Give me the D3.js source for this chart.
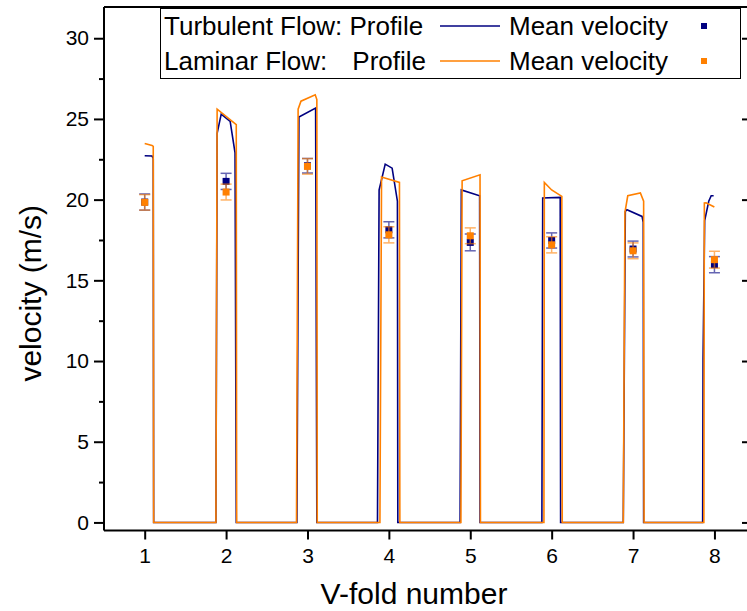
<html>
  <head>
    <title>V-fold velocity</title>
    <style>
      body { margin: 0; background: #fff; }
      text { font-family: Arial, 'Liberation Sans', sans-serif; fill: #000; }
    </style>
  </head>
  <body>
    <script src="https://d3js.org/d3.v7.min.js"></script>
    <script>
      // V-fold positions and tick values
      var folds = [1, 2, 3, 4, 5, 6, 7, 8];
      var yTicks = [0, 5, 10, 15, 20, 25, 30];
      var yMinorTicks = [2.5, 7.5, 12.5, 17.5, 22.5, 27.5];

      // Mean velocity (m/s) and error per fold
      var turbMean = [19.85, 21.13, 22.1, 18.13, 17.35, 17.47, 16.94, 15.97];
      var turbErr = [0.5, 0.5, 0.45, 0.5, 0.52, 0.47, 0.49, 0.5];
      var lamMean = [19.83, 20.47, 22.06, 17.82, 17.76, 17.2, 16.83, 16.28];
      var lamErr = [0.48, 0.49, 0.48, 0.5, 0.49, 0.5, 0.49, 0.52];

      // Velocity profiles (position along the channel, velocity)
      var turbX = [1.00, 1.09, 1.105, 1.11, 1.875, 1.89, 1.94, 2.05, 2.11, 2.125,
                   2.87, 2.895, 3.10, 3.115, 3.86, 3.88, 3.955, 4.04, 4.105, 4.11,
                   4.875, 4.89, 5.115, 5.12, 5.88, 5.89, 6.105, 6.11,
                   6.88, 6.905, 6.925, 7.11, 7.125, 7.13,
                   7.855, 7.86, 7.88, 7.93, 7.96, 7.99];
      var turbV = [22.72, 22.70, 22.55, 0, 0, 24.1, 25.3, 24.85, 22.9, 0,
                   0, 25.12, 25.67, 0, 0, 20.6, 22.2, 21.95, 19.9, 0,
                   0, 20.6, 20.24, 0, 0, 20.1, 20.14, 0,
                   0, 19.27, 19.37, 18.96, 18.6, 0,
                   0, 10.1, 18.7, 19.9, 20.24, 20.24];
      var lamX = [1.00, 1.09, 1.105, 1.11, 1.875, 1.89, 2.125, 2.13,
                  2.865, 2.885, 2.92, 3.095, 3.115, 3.12, 3.89, 3.91, 4.13, 4.135,
                  4.885, 4.9, 5.12, 5.125, 5.905, 5.91, 6.0, 6.125, 6.13,
                  6.88, 6.9, 6.935, 7.09, 7.13, 7.135,
                  7.87, 7.876, 7.897, 7.999];
      var lamV = [23.48, 23.36, 23.3, 0, 0, 25.6, 24.65, 0,
                  0, 25.6, 26.1, 26.5, 26.2, 0, 0, 21.4, 21.07, 0,
                  0, 21.17, 21.54, 0, 0, 21.07, 20.6, 20.2, 0,
                  0, 19.2, 20.24, 20.41, 19.9, 0,
                  0, 19.79, 19.8, 19.54];

      var colors = {
        NAVY: '#000080',
        ORANGE: '#ff8000'
      };

      var W = 747, H = 611;
      var LEFT = 104, RIGHT = 747, TOP = 7, BOTTOM = 530.5;

      var svg = d3.select('body').append('svg')
        .attr('width', W)
        .attr('height', H);

      var x = d3.scaleLinear().domain([0.5, 8.4]).range([LEFT, RIGHT]);
      var y = d3.scaleLinear().domain([-0.5, 32]).range([BOTTOM, 530.5 - 32.5 * 16.14]);

      // Profile lines
      var line = d3.line()
        .x(function(d) { return x(d[0]); })
        .y(function(d) { return y(d[1]); });

      svg.append('path')
        .datum(d3.zip(turbX, turbV))
        .attr('d', line)
        .attr('fill', 'none')
        .attr('stroke', colors.NAVY)
        .attr('stroke-width', 1.6);

      svg.append('path')
        .datum(d3.zip(lamX, lamV))
        .attr('d', line)
        .attr('fill', 'none')
        .attr('stroke', colors.ORANGE)
        .attr('stroke-width', 1.6);

      // Mean velocity points with error bars
      function drawPoints(means, errs, color) {
        var g = svg.append('g');
        var data = d3.zip(folds, means, errs);
        var eb = g.selectAll('.eb').data(data).enter().append('g')
          .attr('stroke', color)
          .attr('stroke-width', 1.5)
          .attr('opacity', 0.6);
        eb.append('line')
          .attr('x1', function(d) { return x(d[0]); })
          .attr('x2', function(d) { return x(d[0]); })
          .attr('y1', function(d) { return y(d[1] - d[2]); })
          .attr('y2', function(d) { return y(d[1] + d[2]); });
        [-1, 1].forEach(function(s) {
          eb.append('line')
            .attr('x1', function(d) { return x(d[0]) - 5.5; })
            .attr('x2', function(d) { return x(d[0]) + 5.5; })
            .attr('y1', function(d) { return y(d[1] + s * d[2]); })
            .attr('y2', function(d) { return y(d[1] + s * d[2]); });
        });
        g.selectAll('rect').data(data).enter().append('rect')
          .attr('x', function(d) { return x(d[0]) - 3.5; })
          .attr('y', function(d) { return y(d[1]) - 3.5; })
          .attr('width', 7)
          .attr('height', 7)
          .attr('fill', color);
      }
      drawPoints(turbMean, turbErr, colors.NAVY);
      drawPoints(lamMean, lamErr, colors.ORANGE);

      // Axes
      var xAxis = svg.append('g')
        .attr('transform', 'translate(0,' + BOTTOM + ')')
        .call(d3.axisBottom(x).tickValues(folds).tickSize(9).tickPadding(9).tickFormat(d3.format('d')));
      var yAxis = svg.append('g')
        .attr('transform', 'translate(' + LEFT + ',0)')
        .call(d3.axisLeft(y).tickValues(yTicks).tickSize(10).tickPadding(5));
      svg.append('g')
        .attr('transform', 'translate(' + LEFT + ',0)')
        .call(d3.axisLeft(y).tickValues(yMinorTicks).tickSize(5).tickFormat(''))
        .select('.domain').remove();
      svg.append('g')
        .attr('transform', 'translate(' + RIGHT + ',0)')
        .call(d3.axisLeft(y).tickValues(yTicks).tickSize(5).tickFormat(''))
        .select('.domain').remove();

      [xAxis, yAxis].forEach(function(a) {
        a.selectAll('text').style('font-size', '21px').attr('font-family', null);
      });
      svg.selectAll('.domain, .tick line').attr('stroke', '#000').attr('stroke-width', 2);
      xAxis.select('.domain').attr('d', 'M' + LEFT + ',0H' + RIGHT);
      yAxis.select('.domain').attr('d', 'M0,' + TOP + 'V' + BOTTOM);

      // Top frame line
      svg.append('line')
        .attr('x1', LEFT).attr('x2', RIGHT)
        .attr('y1', TOP).attr('y2', TOP)
        .attr('stroke', '#000').attr('stroke-width', 2);

      // Axis titles
      svg.append('text')
        .text('V-fold number')
        .attr('x', 414)
        .attr('y', 604)
        .attr('text-anchor', 'middle')
        .style('font-size', '30px');
      svg.append('text')
        .text('velocity (m/s)')
        .attr('transform', 'translate(41,' + y(14.2) + ') rotate(-90)')
        .attr('text-anchor', 'middle')
        .style('font-size', '30px');

      // Legend
      var legend = svg.append('g');
      legend.append('rect')
        .attr('x', 160.5).attr('y', 8.5)
        .attr('width', 580).attr('height', 70)
        .attr('fill', '#fff')
        .attr('stroke', '#000')
        .attr('stroke-width', 1);
      var rows = [
        { name: 'Turbulent Flow: Profile', color: colors.NAVY, cy: 26 },
        { name: 'Laminar Flow:', color: colors.ORANGE, cy: 61 }
      ];
      rows.forEach(function(r, i) {
        legend.append('text').text(r.name)
          .attr('x', 164).attr('y', r.cy + 9).style('font-size', '26px');
        if (i === 1) {
          legend.append('text').text('Profile')
            .attr('x', 426).attr('y', r.cy + 9).attr('text-anchor', 'end').style('font-size', '26px');
        }
        legend.append('line')
          .attr('x1', 440).attr('x2', 500)
          .attr('y1', r.cy).attr('y2', r.cy)
          .attr('stroke', r.color).attr('stroke-width', 1.6);
        legend.append('text').text('Mean velocity')
          .attr('x', 509).attr('y', r.cy + 9).style('font-size', '26px');
        legend.append('rect')
          .attr('x', 701).attr('y', r.cy - 3)
          .attr('width', 6).attr('height', 6)
          .attr('fill', r.color);
      });
    </script>
  </body>
</html>
